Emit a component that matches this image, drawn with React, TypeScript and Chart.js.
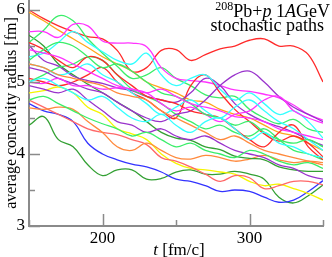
import React, { useEffect, useRef } from "react";
import { Chart, registerables } from "chart.js";

Chart.register(...registerables);

const times = [150, 160, 170, 180, 190, 200, 210, 220, 230, 240, 250, 260, 270, 280, 290, 300, 310, 320, 330, 340, 350];

const redA = [6.0, 5.88, 5.78, 5.7, 5.63, 5.6, 5.44, 5.15, 5.2, 5.44, 5.45, 5.3, 5.38, 5.46, 5.5, 5.58, 5.6, 5.5, 5.5, 5.38, 5.0];
const redB = [5.05, 5.0, 4.95, 5.0, 5.1, 5.2, 5.0, 4.85, 4.75, 4.6, 4.5, 4.95, 5.1, 4.85, 4.62, 4.45, 4.28, 4.18, 4.25, 4.15, 3.96];
const redC = [5.55, 5.45, 5.3, 5.2, 5.35, 5.3, 5.1, 4.95, 4.8, 4.75, 4.7, 4.6, 4.55, 4.5, 4.35, 4.2, 4.1, 4.3, 4.4, 4.1, 3.92];
const orangeA = [5.97, 5.85, 5.72, 5.6, 5.48, 5.35, 5.25, 5.15, 5.0, 4.92, 4.85, 4.75, 4.72, 4.62, 4.55, 4.5, 4.4, 4.3, 4.25, 4.15, 4.05];
const orangeB = [4.64, 4.62, 4.65, 4.62, 4.45, 4.3, 4.1, 4.05, 4.15, 4.05, 3.95, 3.93, 3.98, 3.95, 3.9, 3.93, 3.98, 3.92, 3.88, 3.9, 3.88];
const orangeC = [5.25, 5.2, 5.1, 5.05, 5.0, 4.95, 4.85, 4.8, 4.75, 4.6, 4.5, 4.4, 4.3, 4.2, 4.25, 4.15, 4.05, 4.0, 3.95, 3.9, 3.85];
const limeA = [5.55, 5.72, 5.92, 5.85, 5.6, 5.4, 5.22, 5.05, 5.1, 5.2, 5.05, 4.95, 4.82, 4.78, 4.8, 4.62, 4.5, 4.42, 4.48, 4.35, 4.3];
const limeB = [5.0, 5.1, 5.2, 5.25, 5.35, 5.3, 5.1, 4.9, 4.8, 4.7, 4.55, 4.45, 4.35, 4.4, 4.3, 4.25, 4.35, 4.2, 4.05, 4.0, 3.92];
const limeC = [4.75, 4.8, 4.7, 4.6, 4.5, 4.42, 4.35, 4.25, 4.3, 4.2, 4.1, 4.15, 4.05, 4.0, 3.95, 4.05, 4.0, 3.9, 3.85, 3.88, 3.8];
const limeD = [5.3, 5.45, 5.55, 5.5, 5.35, 5.2, 5.25, 5.15, 5.0, 4.85, 4.8, 4.7, 4.55, 4.5, 4.4, 4.45, 4.3, 4.2, 4.15, 4.2, 4.1];
const magentaA = [5.7, 5.7, 5.62, 5.8, 5.78, 5.57, 5.54, 5.54, 5.49, 5.2, 5.05, 5.02, 5.0, 4.95, 4.89, 4.87, 4.83, 4.78, 4.68, 4.55, 4.47];
const magentaB = [5.0, 4.98, 5.05, 4.95, 4.95, 4.9, 4.92, 4.9, 4.85, 4.7, 4.6, 4.65, 4.55, 4.45, 4.55, 4.6, 4.75, 4.8, 4.6, 4.5, 4.43];
const magentaC = [5.45, 5.4, 5.35, 5.25, 5.15, 5.05, 4.95, 4.9, 4.85, 4.9, 4.8, 4.7, 4.65, 4.6, 4.52, 4.5, 4.45, 4.35, 4.3, 4.25, 4.2];
const purpleA = [5.51, 5.3, 5.22, 5.08, 5.02, 4.98, 4.92, 4.88, 4.8, 4.75, 4.72, 4.85, 5.05, 4.95, 4.7, 4.55, 4.45, 4.38, 4.3, 4.2, 4.12];
const purpleB = [5.2, 5.15, 5.05, 4.98, 4.9, 4.85, 4.72, 4.6, 4.5, 4.45, 4.55, 4.6, 4.75, 4.95, 5.1, 5.15, 5.0, 4.8, 4.65, 4.55, 4.45];
const purpleC = [4.95, 4.9, 4.85, 4.9, 4.75, 4.6, 4.45, 4.4, 4.3, 4.35, 4.25, 4.2, 4.25, 4.15, 4.05, 4.0, 3.95, 3.85, 3.8, 3.7, 3.65];
const cyanA = [5.35, 5.4, 5.55, 5.7, 5.55, 5.42, 5.3, 5.25, 5.4, 5.1, 4.95, 5.05, 5.1, 4.9, 4.75, 4.85, 4.7, 4.55, 4.6, 4.45, 4.22];
const cyanB = [5.25, 5.2, 5.1, 5.15, 5.25, 5.1, 5.0, 4.85, 4.7, 4.55, 4.65, 4.75, 4.6, 4.5, 4.65, 4.75, 4.6, 4.45, 4.35, 4.2, 4.05];
const cyanC = [5.0, 5.05, 4.95, 4.85, 4.75, 4.8, 4.65, 4.5, 4.45, 4.55, 4.4, 4.3, 4.45, 4.5, 4.35, 4.2, 4.3, 4.15, 4.1, 4.0, 3.95];
const greenA = [5.65, 5.5, 5.25, 5.1, 4.97, 4.85, 4.72, 4.6, 4.45, 4.3, 4.22, 4.19, 4.1, 4.06, 3.97, 3.94, 3.92, 3.82, 3.78, 3.76, 3.76];
const greenB = [4.4, 4.52, 4.2, 4.1, 3.85, 3.7, 3.78, 3.78, 3.65, 3.66, 3.75, 3.78, 3.72, 3.72, 3.76, 3.72, 3.65, 3.4, 3.32, 3.42, 3.57];
const yellowA = [4.85, 4.88, 4.93, 4.85, 4.65, 4.55, 4.35, 4.28, 4.2, 4.0, 3.87, 3.8, 3.78, 3.75, 3.72, 3.62, 3.56, 3.58, 3.52, 3.45, 3.36];
const blueA = [4.7, 4.6, 4.55, 4.45, 4.15, 4.0, 3.92, 3.86, 3.82, 3.75, 3.65, 3.62, 3.56, 3.48, 3.5, 3.48, 3.4, 3.33, 3.36, 3.48, 3.63];
const salmonA = [4.75, 4.65, 4.55, 4.45, 4.35, 4.3, 4.27, 4.2, 4.13, 3.95, 3.9, 3.82, 3.72, 3.62, 3.7, 3.67, 3.52, 3.56, 3.62, 3.62, 3.57];

const yTicks = [3, 3.5, 4, 4.5, 5, 5.5, 6];
const xTicks = [150, 200, 250, 300, 350];
const yMajor = [3, 4, 5, 6];
const xMajor = [200, 300];

const RED = "#ff2a2a";
const ORANGE = "#ffa41a";
const ORANGE2 = "#ff8a3d";
const LIME = "#3bee6a";
const MAGENTA = "#ff33ff";
const PURPLE = "#9933cc";
const CYAN = "#33ffff";
const GREEN = "#33a033";
const YELLOW = "#f5f500";
const BLUE = "#3333ff";
const SALMON = "#ff6868";

const seriesList: [number[], string][] = [
  [cyanC, CYAN], [limeC, LIME], [purpleC, PURPLE], [orangeC, ORANGE2], [magentaC, MAGENTA],
  [limeD, LIME], [cyanB, CYAN], [magentaB, MAGENTA], [redC, RED], [purpleB, PURPLE],
  [limeB, LIME], [cyanA, CYAN], [purpleA, PURPLE], [redB, RED], [magentaA, MAGENTA],
  [limeA, LIME], [orangeA, ORANGE], [greenA, GREEN], [orangeB, ORANGE2], [salmonA, SALMON],
  [yellowA, YELLOW], [blueA, BLUE], [greenB, GREEN], [redA, RED],
];

const SERIF = "'Liberation Serif', 'Times New Roman', serif";

const decorPlugin = {
  id: "decor",
  afterDatasetsDraw(chart: any) {
    const ctx = chart.ctx;
    const xs = chart.scales.x;
    const ys = chart.scales.y;
    const area = chart.chartArea;
    ctx.save();
    ctx.strokeStyle = "#8a8a8a";
    ctx.lineWidth = 1.5;
    ctx.beginPath();
    yTicks.forEach((v) => {
      const py = Math.round(ys.getPixelForValue(v)) + 0.5;
      const len = yMajor.includes(v) ? 11 : 6;
      ctx.moveTo(area.left, py);
      ctx.lineTo(area.left + len, py);
    });
    xTicks.forEach((v) => {
      const px = Math.round(xs.getPixelForValue(v)) + 0.5;
      const len = xMajor.includes(v) ? 12 : 6;
      ctx.moveTo(px, area.bottom);
      ctx.lineTo(px, area.bottom - len);
    });
    ctx.stroke();

    ctx.fillStyle = "#000";
    ctx.textBaseline = "alphabetic";
    ctx.font = `italic 17px ${SERIF}`;
    const tW = ctx.measureText("t").width;
    ctx.font = `17px ${SERIF}`;
    const rest = " [fm/c]";
    const rW = ctx.measureText(rest).width;
    const cx = (area.left + area.right) / 2 + 3;
    const sx = cx - (tW + rW) / 2;
    ctx.font = `italic 17px ${SERIF}`;
    ctx.fillText("t", sx, 255);
    ctx.font = `17px ${SERIF}`;
    ctx.fillText(rest, sx + tW, 255);

    ctx.save();
    ctx.translate(16, (area.top + area.bottom) / 2);
    ctx.rotate(-Math.PI / 2);
    ctx.textAlign = "center";
    ctx.font = `16px ${SERIF}`;
    ctx.fillText("average concavity radius [fm]", 0, 0);
    ctx.restore();

    const parts: [string, string, number][] = [
      ["208", `12px ${SERIF}`, -7],
      ["Pb+", `18px ${SERIF}`, 0],
      ["p", `italic 18px ${SERIF}`, 0],
      [" 1", `18px ${SERIF}`, 0],
      ["A", `italic 18px ${SERIF}`, 0],
      ["GeV", `18px ${SERIF}`, 0],
    ];
    let total = 0;
    parts.forEach(([s, f]) => {
      ctx.font = f;
      total += ctx.measureText(s).width;
    });
    let ax = 330 - total;
    parts.forEach(([s, f, dy]) => {
      ctx.font = f;
      ctx.fillText(s, ax, 17 + dy);
      ax += ctx.measureText(s).width;
    });
    ctx.font = `18px ${SERIF}`;
    ctx.textAlign = "right";
    ctx.fillText("stochastic paths", 324, 31);
    ctx.restore();
  },
};

export default function App() {
  const ref = useRef<HTMLCanvasElement | null>(null);
  useEffect(() => {
    if (!ref.current) return;
    const chart = new Chart(ref.current, {
      type: "line",
      data: {
        datasets: seriesList.map(([vals, color], i) => ({
          label: "path " + (i + 1),
          data: times.map((tv, j) => ({ x: tv, y: vals[j] })),
          borderColor: color,
          backgroundColor: color,
          borderWidth: 1.3,
          pointRadius: 0,
          tension: 0.4,
          fill: false,
        })),
      },
      options: {
        responsive: false,
        animation: false,
        events: [],
        layout: { padding: { left: 0, right: 9, top: 0, bottom: 0 } },
        plugins: { legend: { display: false }, tooltip: { enabled: false }, title: { display: false } },
        scales: {
          x: {
            type: "linear",
            min: 150,
            max: 350,
            grid: { display: false, drawTicks: false },
            border: { display: true, color: "#8a8a8a", width: 2 },
            afterBuildTicks: (s: any) => {
              s.ticks = xTicks.map((v) => ({ value: v }));
            },
            afterFit: (s: any) => {
              s.height = 31;
              s.paddingLeft = 0;
              s.paddingRight = 0;
            },
            ticks: {
              autoSkip: false,
              maxRotation: 0,
              padding: 2,
              color: "#000",
              font: { family: SERIF, size: 17 },
              callback: (v: any) => (xMajor.includes(Number(v)) ? String(v) : ""),
            },
          },
          y: {
            type: "linear",
            min: 3,
            max: 6.139,
            grid: { display: false, drawTicks: false },
            border: { display: true, color: "#8a8a8a", width: 2 },
            afterBuildTicks: (s: any) => {
              s.ticks = yTicks.map((v) => ({ value: v }));
            },
            afterFit: (s: any) => {
              s.width = 29;
              s.paddingTop = 0;
              s.paddingBottom = 0;
            },
            ticks: {
              autoSkip: false,
              padding: 4,
              color: "#000",
              font: { family: SERIF, size: 17 },
              callback: (v: any) => (yMajor.includes(Number(v)) ? String(v) : ""),
            },
          },
        },
      },
      plugins: [decorPlugin],
    });
    return () => chart.destroy();
  }, []);
  return (
    <div style={{ position: "fixed", left: 0, top: 0, width: 332, height: 257, background: "#fff" }}>
      <canvas ref={ref} width={332} height={257} style={{ display: "block" }} />
    </div>
  );
}
